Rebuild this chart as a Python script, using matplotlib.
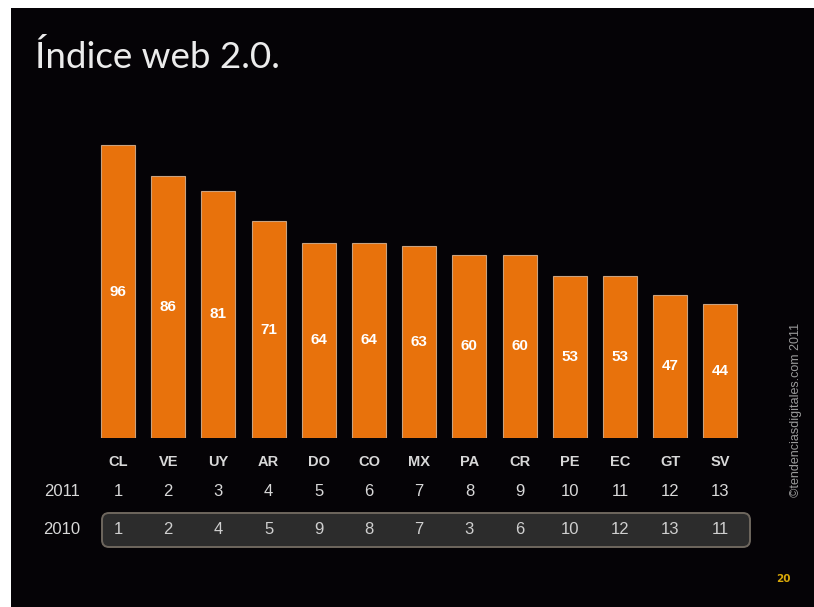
import matplotlib.pyplot as plt
from matplotlib.patches import FancyBboxPatch, Rectangle
import matplotlib.transforms as mtransforms

countries = ["CL", "VE", "UY", "AR", "DO", "CO", "MX", "PA", "CR", "PE", "EC", "GT", "SV"]
index_values = [96, 86, 81, 71, 64, 64, 63, 60, 60, 53, 53, 47, 44]
rank_2011 = [1, 2, 3, 4, 5, 6, 7, 8, 9, 10, 11, 12, 13]
rank_2010 = [1, 2, 4, 5, 9, 8, 7, 3, 6, 10, 12, 13, 11]

W, H = 814, 607
fig = plt.figure(figsize=(W / 100, H / 100), dpi=100)
fig.patch.set_facecolor("white")

# background layer in pixel coordinates
bg = fig.add_axes([0, 0, 1, 1])
bg.set_xlim(0, W)
bg.set_ylim(H, 0)
bg.axis("off")
bg.add_patch(Rectangle((11, 8), W - 11, H - 8, facecolor="#050306", edgecolor="none"))
bg.text(35, 68, "Índice web 2.0.", color="#ececec", fontsize=26.5, family="Lato",
        ha="left", va="baseline")
bg.text(796, 410, "©tendenciasdigitales.com 2011", color="#9a9a9a", fontsize=9,
        rotation=90, ha="center", va="center", family="Liberation Sans")
bg.text(783, 579, "20", color="#d9a808", fontsize=7.5, fontweight="bold",
        ha="center", va="center")
bg.add_patch(FancyBboxPatch((102, 513), 648, 34, boxstyle="round,pad=0,rounding_size=7",
                            facecolor="#2c2c2c", edgecolor="#6e675e", linewidth=1.4))

# bar chart
bar_left = (118 - 25.1) / W
bar_bottom = (H - 438) / H
ax = fig.add_axes([bar_left, bar_bottom, 13 * 50.2 / W, 100 * 3.05 / H])
ax.set_facecolor("none")
x = list(range(len(countries)))
ax.bar(x, index_values, width=0.68, color="#e8720c", edgecolor="#c9a27f", linewidth=0.8)
ax.set_xlim(-0.5, len(countries) - 0.5)
ax.set_ylim(0, 100)
ax.axis("off")

for i, v in enumerate(index_values):
    ax.text(i, v / 2, str(v), color="white", fontsize=11, fontweight="bold",
            ha="center", va="center", family="Liberation Sans")

# rows under the bars: x in data, y in pixels below the baseline
px = 1 / (100 * 3.05)
trans = mtransforms.blended_transform_factory(ax.transData, ax.transAxes)
for i in x:
    ax.text(i, -(462 - 438) * px, countries[i], transform=trans, color="#d8d8d8",
            fontsize=10.5, fontweight="bold", ha="center", va="center",
            family="Liberation Sans")
    ax.text(i, -(491 - 438) * px, str(rank_2011[i]), transform=trans, color="#d8d8d8",
            fontsize=12, ha="center", va="center", family="Liberation Sans")
    ax.text(i, -(530 - 438) * px, str(rank_2010[i]), transform=trans, color="#cfcfcf",
            fontsize=12, ha="center", va="center", family="Liberation Sans")

ax.text(-1.12, -(491 - 438) * px, "2011", transform=trans, color="#d8d8d8",
        fontsize=12, ha="center", va="center", family="Liberation Sans")
ax.text(-1.12, -(530 - 438) * px, "2010", transform=trans, color="#d8d8d8",
        fontsize=12, ha="center", va="center", family="Liberation Sans")

fig.savefig("out.png", dpi=100, facecolor=fig.get_facecolor())
